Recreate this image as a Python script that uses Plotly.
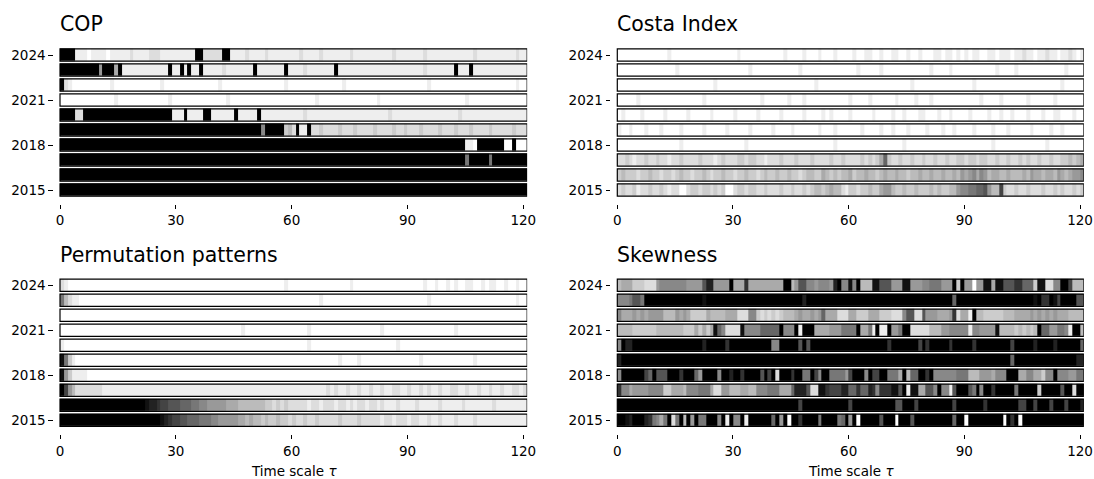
import plotly.graph_objects as go

W, H = 1094, 479

# ---------------- data ----------------
YEARS = [2024, 2023, 2022, 2021, 2020, 2019, 2018, 2017, 2016, 2015]
YEAR_TICKS = [2015, 2018, 2021, 2024]
TAU_TICKS = [0, 30, 60, 90, 120]
N_TAU = 121
TITLES = ["COP", "Costa Index", "Permutation patterns", "Skewness"]

# grey level of every time-scale cell, hex digit 0 (black) .. F (white); rows follow YEARS
COP = [
    "0000EEEFEE EEFEEEEEDE EEEDDDEEEE EEEEE00DDD DD00EEEEDE EEEDEEEEEE EEDEEEEDEE EEEEEDEEEE EEEEEEDEEE EEEEDEEEEE EEEEEEEDEE EEEEEEEEDE E",
    "0000000000 9000A0EEEE EEEEEEEE0E E0E0EE0EEE EEDEEEEEEE 0EEEEEEE0E EEEDEEEEEE E0EEEEEEEE EEEEEEEEEE EEEEDEEEEE EE0EEE0EEE EEEEEEEEEE E",
    "0DEFFFFFFF FFFEFFFFFF FFFFFFEFFF FFFFFFFFFF FEFFFFFFFF FFFFFFFFEF FFFFFFFFFF FFFEFFFFFF FFFFFFFFFF FFFFFEFFFF FFFFFFFFFF FFFFFFFFEF F",
    "FFFFFFFFFF FFFFEFFFFF FFFFFFFFEF FFFFFFFFFF FFFEFFFFFF FFFFFFFFFF FFFFFFEFFF FFFFFFFFFF FFEFFFFFFF FFFFFFFFFF FFFFFEFFFF FFFFFFFFFF F",
    "0000DD0000 0000000000 000000000E EE0EEEE00E EEEEE0EEEE E0EEEEEEEE EEEDEEEEEE EEEEEEEEEE EEEEEDEEEE EEEEEEEEEE EEEDEEEEEE EEEEEEEEEE E",
    "0000000000 0000000000 0000000000 0000000000 0000000000 00800000CB D0EE0DDCDD DDCDDDCDDD DCDDDDCDDC DDDCDDDDCD DDCDDDCDDD DCDDDDDCDD D",
    "0000000000 0000000000 0000000000 0000000000 0000000000 0000000000 0000000000 0000000000 0000000000 0000000000 00000EEF00 00000FF0FF F",
    "0000000000 0000000000 0000000000 0000000000 0000000000 0000000000 0000000000 0000000000 0000000000 0000000000 0000070000 0700000000 0",
    "0000000000 0000000000 0000000000 0000000000 0000000000 0000000000 0000000000 0000000000 0000000000 0000000000 0000000000 0000000000 0",
    "0000000000 0000000000 0000000000 0000000000 0000000000 0000000000 0000000000 0000000000 0000000000 0000000000 0000000000 0000000000 0",
]

COSTA = [
    "FFFFFFFFFF FFFEFFFFFF FFFFFFFFFF FEFFFFFFFF FFFEFFFFEF FFEFFFEFFF FEFFEEFFEF FEEFFEFFEF FFEEFEEFEF EFEEFFEEFE EEFEEDEEFE EDEEFEEDEF E",
    "FFFFFFFFFF FFFFFEFFFF FFFFFFFFFF FFFFEFFFFF FFFFFFFEFF FFFFFFFFFF FFEFFFFFEF FFFFFFFFFF FEFFFFEFFF FFFFFFFFEF FFFEFFFFFF FFFFFFEFFF F",
    "FFFFFFFFFF FFFFFFFFFF FFFFFEFFFF FFFFFFFFFF FFFFFFFFFF FEFFFFFFFF FFFFFFFFFF FFFFFFEFFF FFFFFFFFFF FFEFFFFFFF FFFFFFFFFF FFFFFEFFFF F",
    "FFFFFEFFFF FFFFFFFFFF FFEFFFFFFF FFFFFFFEFF FFFFEFFFEF FFFFFFFFFF EFFFFEFFFF FFEFFFFEFF FEFFFFFFFF FFFFEFFFFE FFFFFFEFFF FFFEFFFFFF F",
    "FEFFFFEFFF FFEFFFFFEF FFFFEFFFFF EFFFFFEFFF FFEFFFFFEF FFFEFEFFFF EFFFFFEFFF FEFFEFFFEE FFFEFFEFFF FEFFFFEFFE FFEFFFEFFF EFFEEFFFEF F",
    "EFFEFFFEFF FEFFFFEFFF FFEFFFFFEF FFFFEFFFFF EFFFFEFFFF FFEFFFEFFF FFFEFFFFEF FEFFFEFFFF EFFFEFFEFF FFEFFFFEFF FEFFFFFEFF FFEFFEFFFF F",
    "FFFFFFFFFF FFFFFFEFFF FFFFFFFFFF FFFEFFFFFF FFFFFFFFFF FFFFFFEFFF FFFFFFFFFF FFFFEFFFFF FFFFFFFFFF FFFFFFFEFF FFFFFFFFFF FEFFFFFFFF F",
    "DDCDEDDCDD CDDEDDCDDD DCDDDEDCDD DCCDCCDDED DDCDDDCDDD CDDDDCDDCD DDDCDCDCA6 CDDCDDCDDC DDCDDCDDCC DCCDCCDDCD DCDDCDCDDC DDCDDCCBCB A",
    "CBCCCDCCBC CDCCDCBCCD CCBCDCCBCC DCCBCCDCBC CBCCBCCDCB BCCABCBCBB ACBBABBCBA BBABBCBBAB BABBABBAB9 A98A89BAAB BABBBAB9AA BAAB9ABA99 8",
    "DCDDCEDDCD DCDEDDFFDC CDCCDCDCFF DCCDCCDDCD DDCDDCDDCD CBBCBABBDE CCDCCBCCA9 9BCCBCCBCC CBCBCCBB98 8776659BB4 CDDCDDCDDD CDDCDCDDCD C",
]

PERM = [
    "DEFFFFFFFF FFFFFFFFFF FFFFFFFFFF FFFFFFFFFF FFFFFFFFFF FFFFFFFFEF FFFFFFFFFF FFFFFEFFFF FFFFFFFFFF FFFFEFFEFF EFEFFEEFFE FEEFFEFFEF F",
    "7BDEEFFFFF FFFFFFFFFF FFFFFFFFFF FFFFFFFFFF FFFFFFFFFF FFFFFFFFFF FFFFFFFEFF FFFFFFFFFF FFFFFFFFFF FFFFFEFFFF FFFFFFFFFF FFFFFFFFEF F",
    "FFFFFFFFFF FFFFFFFFFF FFFFFFFFFF FFFFFFFFFF FFFFFFFFFF FFFFFFFFFF FFFFFFFFFF FFFFFFFFFF FFFFFFFFFF FFFFFFFFFF FFFFFFFFFF FFFFFFFFFF F",
    "FFFFFFFFFF FFFFFFFFFF FFFFFFFFFF FFFFFFFFFF FFFFFFFEFF FFFFFFFFFF FFFFEFFFFF FFFFFFFFFF FFFEFFFFFF FFFFFFFFFF FFEFFFFFFF FFFFFFFFFF F",
    "EFFFFFFFFF FFFFFFFFFF FFFFFFFFFF FFFFFFFFFF FFFFFFFFFF FFFFFFFFFF FFFFEFFFFF FFFFFFFFFF FFFFFFFEFF FFFFFFFFFF FFFFFFFFFF FFFFFFFFFF F",
    "17CEFFFFFF FFFFFFFFFF FFFFFFFFFF FFFFFFFFFF FFFFFFFFFF FFFFFFFFFF FFFFFFFFFF FFEFFFFEFF FFFFFFFFFF FFFEFFFFFF FFFFFFFEFF FFFFFFFFFF F",
    "19CEEEEFFF FFFFFFFFFF FFFFFFFFFF FFFFFFFFFF FFFFFFFFFF FFFFFFFFFF FFFFFFFFFF FFFFFFFFFF FFFFFFFFFF FFFFFFFFFF FFFFFFFFFF FFFFFFFFFF F",
    "049BDDDDDD DEEEEEEEEE EEEEEEEEEE EEEEEEEEEE EEEEEEEEEE EEEEEEEEEE EEEEEEEEED EDEEDEEDEE DEEDEEDDEE DEEDEDEEDE EDDEEDEEDE EDEEDEEDDE D",
    "0000000000 0000000000 0012234455 5666778899 999AAABBBB BBBCCDCDCD DDDDEDDEDD DEDDEDEDDE DDEDEEEDEE EEDEEEEEDE EEEEDEEEEE EEDEEEEEEE E",
    "0000000000 0000000000 0000001234 4556667778 899999AABA BBCBCCBCCD CDDCDDCDDD DDCDDDDCDD DDDEDDEDDD EDDEEDEEDE EEDEEEEDEE EEEEEEEEEE E",
]

SKEW = [
    "BAAACCCDDD 9888888899 9952299990 AAA3AAAAAA AAA00B9558 8988892088 180BBB1155 5999119998 87779990C0 99F9911A11 55533666C1 1DD88004BB B",
    "8887557000 0000000000 0010000000 0000000000 0000000020 0000000000 0000000000 0000000000 0000000600 0000000000 0000000010 3301400005 5",
    "8AAA9A9A99 99BBB9A9AC CCCABBBBAA ADDD88CDCD CDCBBBA9AA 9A96AAADDD AACCCAAACC CDDD855DD5 999AAA93DA AE0BBCCCCC BBBAAAA9A9 A9A9AAABBB B",
    "BBBBCCCCCC BBBBBBBCCC ACACA168DD DD18888666 6608880E00 0AAAA99977 770AA7E0EE 099700DDDD DBBB998888 8E8899991B BBBCBCBCB0 6699778E00 B",
    "8022000000 0000000000 0020000030 0000000000 8800000505 0000000000 0000000000 3000000040 3000003000 0030000000 0040000020 0002000000 6",
    "2000000000 0000000000 0000000000 0000000000 0000000000 0000000000 0000000000 0000000000 0000000000 0000000000 0060000000 0000000002 2",
    "8000000460 5550003000 6900008002 0030000504 0D00030077 0480077779 4000804400 777A0B6600 3088888877 7BBB999A88 8000AA88AA C880888997 7",
    "388A999988 88CCAAAB88 8777ADD99B BBAABB8887 77AAA62225 DD11344422 6636623833 31150E11AA 558088E500 0570800300 000700000C 00000500D0 0",
    "0000000000 0000000000 0000000000 0000000000 0000000400 0000000000 4000000000 0055000400 0000000400 0000030000 0000440040 0040004000 2",
    "0012000237 8A70D70B09 07700080E0 880E000000 6090F00300 0070000760 90F0000050 00F0005000 0000000600 F000000000 F030F00000 0000000000 0",
]

PANEL_ROWS = [COP, COSTA, PERM, SKEW]


def to_levels(row):
    s = row.replace(" ", "")
    assert len(s) == N_TAU, (len(s), row)
    return [int(c, 16) / 15.0 for c in s]


# ---------------- geometry (pixels) ----------------
TAU0_PX = [60.0, 617.3]        # pixel x of tau = 0 for left / right column
PX_PER_TAU = [3.861, 3.856]
ROW2024_PX = [55.0, 285.3]     # pixel y of the 2024 row centre, top / bottom row
ROW_PX = 15.0
X_PAD = 1.6                    # ticks are set off from the strips
Y_PAD = 0.4
HALF = 0.41                    # half height of a strip in row units
FONT = "DejaVu Sans"
TICK_SIZE = 13.5
TITLE_SIZE = 20.5

fig = go.Figure()
shapes, annotations = [], []
x_edges = list(range(N_TAU + 1))
years_asc = YEARS[::-1]

for i, (title, rows) in enumerate(zip(TITLES, PANEL_ROWS)):
    col, r = i % 2, i // 2
    n = "" if i == 0 else str(i + 1)
    xa, ya = "x" + n, "y" + n
    z = [to_levels(s) for s in rows][::-1]
    fig.add_trace(go.Heatmap(
        x=x_edges, y=years_asc, z=z, xaxis=xa, yaxis=ya,
        colorscale=[[0, "#000000"], [1, "#ffffff"]], zmin=0, zmax=1,
        showscale=False, ygap=2.6, hoverinfo="skip",
    ))

    ppt = PX_PER_TAU[col]
    left_px = TAU0_PX[col] - X_PAD * ppt
    right_px = TAU0_PX[col] + N_TAU * ppt
    top_px = ROW2024_PX[r] - 0.5 * ROW_PX
    bot_px = ROW2024_PX[r] + (len(YEARS) - 1) * ROW_PX + (0.5 + Y_PAD) * ROW_PX

    axis_common = dict(
        showgrid=False, zeroline=False, showline=False, ticks="outside",
        ticklen=4.5, tickwidth=1.1, tickcolor="black", automargin=False,
        tickfont=dict(family=FONT, size=TICK_SIZE, color="black"),
    )
    fig.layout["xaxis" + n] = dict(
        axis_common, domain=[left_px / W, right_px / W], anchor=ya,
        range=[-X_PAD, N_TAU], tickmode="array", tickvals=TAU_TICKS,
    )
    fig.layout["yaxis" + n] = dict(
        axis_common, domain=[1 - bot_px / H, 1 - top_px / H], anchor=xa,
        range=[min(YEARS) - 0.5 - Y_PAD, max(YEARS) + 0.5],
        tickmode="array", tickvals=YEAR_TICKS,
    )

    for yr in YEARS:
        shapes.append(dict(
            type="rect", xref=xa, yref=ya, x0=0, x1=N_TAU,
            y0=yr - HALF, y1=yr + HALF,
            line=dict(color="black", width=1.2), fillcolor="rgba(0,0,0,0)",
            layer="above",
        ))

    title_y_px = [24.0, 255.0][r]
    annotations.append(dict(
        text=title, xref=xa, x=0, xanchor="left", xshift=-2, yref="paper",
        y=1 - title_y_px / H, yanchor="middle", showarrow=False,
        font=dict(family=FONT, size=TITLE_SIZE, color="black"),
    ))
    if r == 1:
        annotations.append(dict(
            text="Time scale <i>τ</i>", xref="paper",
            x=(TAU0_PX[col] + N_TAU * ppt / 2) / W, xanchor="center",
            yref="paper", y=1 - 471.0 / H, yanchor="middle", showarrow=False,
            font=dict(family=FONT, size=TICK_SIZE, color="black"),
        ))

fig.update_layout(
    width=W, height=H, margin=dict(l=0, r=0, t=0, b=0),
    paper_bgcolor="white", plot_bgcolor="white",
    shapes=shapes, annotations=annotations, showlegend=False,
)

fig.write_html("out.html")
